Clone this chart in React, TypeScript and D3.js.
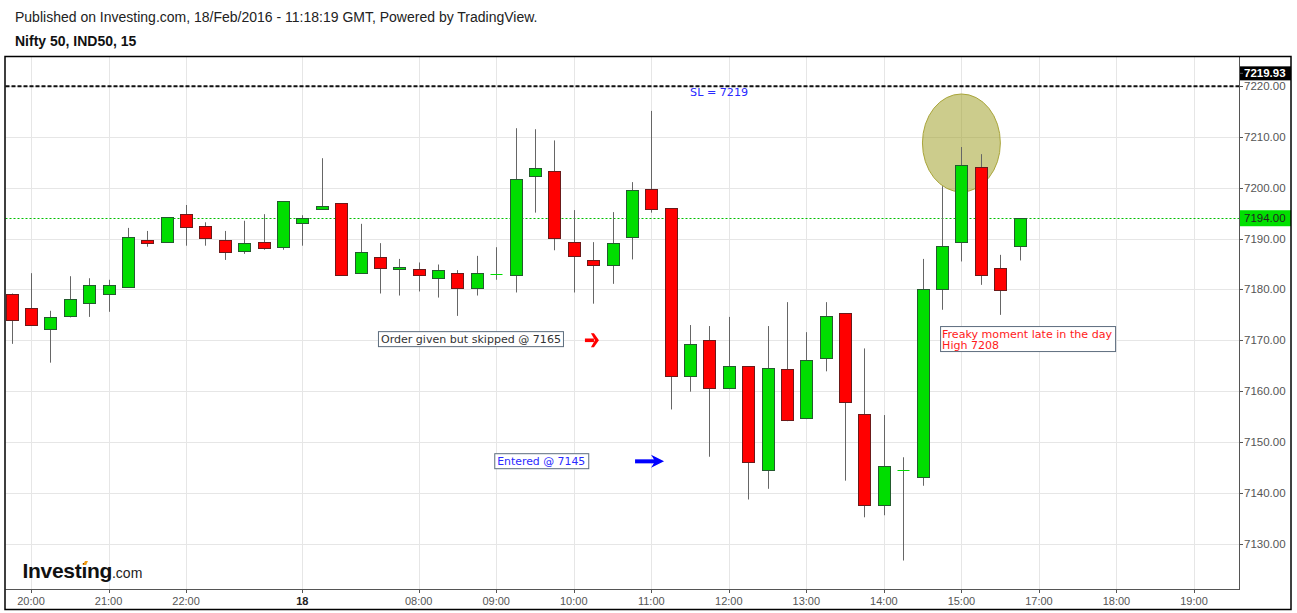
import React from 'react';
import * as d3 from 'd3';

const W = 1297;
const H = 613;

// OHLC of 15-minute candles (index = bar position)
const opens = [7179.2, 7176.3, 7172.2, 7174.7, 7177.3, 7179.2, 7180.4, 7189.7, 7189.3, 7194.8, 7192.4, 7189.7, 7187.5, 7189.3, 7188.3, 7193.0, 7195.8, 7196.9, 7183.2, 7186.4, 7184.0, 7184.0, 7182.2, 7183.2, 7180.2, 7183.0, 7182.8, 7202.4, 7203.2, 7189.3, 7185.7, 7184.9, 7190.3, 7199.7, 7196.0, 7162.9, 7170.0, 7160.6, 7164.9, 7144.4, 7164.3, 7154.7, 7166.5, 7175.3, 7155.5, 7137.6, 7144.4, 7143.1, 7180.0, 7189.3, 7204.0, 7184.2, 7188.5];
const highs = [7179.2, 7183.2, 7175.8, 7182.6, 7182.2, 7181.9, 7192.1, 7191.5, 7194.2, 7196.6, 7193.2, 7191.5, 7193.5, 7194.8, 7197.3, 7194.6, 7205.8, 7196.9, 7192.9, 7189.1, 7186.0, 7185.3, 7184.9, 7183.8, 7186.6, 7188.3, 7211.7, 7211.5, 7209.3, 7195.6, 7189.3, 7195.2, 7201.1, 7215.1, 7196.0, 7173.0, 7172.8, 7174.6, 7164.9, 7172.8, 7177.5, 7171.6, 7177.5, 7175.3, 7168.4, 7155.3, 7147.0, 7186.0, 7200.3, 7208.0, 7206.6, 7186.8, 7194.0];
const lows = [7169.3, 7173.1, 7165.6, 7174.5, 7174.6, 7175.6, 7180.4, 7188.4, 7189.3, 7188.6, 7188.6, 7185.8, 7187.0, 7187.8, 7187.8, 7188.6, 7195.8, 7182.8, 7183.2, 7179.2, 7178.8, 7179.6, 7178.4, 7174.8, 7178.8, 7181.9, 7179.4, 7195.1, 7187.7, 7179.4, 7177.2, 7181.1, 7185.9, 7195.1, 7156.4, 7159.9, 7147.1, 7160.4, 7138.7, 7140.8, 7154.1, 7154.5, 7163.9, 7142.4, 7135.2, 7135.6, 7126.7, 7141.4, 7176.0, 7185.5, 7180.9, 7175.0, 7185.7];
const closes = [7173.9, 7173.1, 7174.5, 7178.1, 7180.8, 7180.8, 7190.3, 7189.1, 7194.2, 7192.2, 7190.1, 7187.3, 7189.1, 7188.1, 7197.3, 7194.0, 7196.5, 7182.8, 7187.3, 7184.2, 7184.5, 7182.8, 7183.8, 7180.2, 7183.2, 7183.0, 7201.7, 7203.8, 7190.1, 7186.5, 7184.9, 7189.1, 7199.5, 7195.8, 7162.9, 7169.2, 7160.7, 7164.9, 7146.0, 7164.5, 7154.3, 7166.1, 7174.7, 7157.8, 7137.6, 7145.2, 7144.4, 7180.0, 7188.5, 7204.4, 7182.8, 7179.8, 7194.0];

const timeTickIndex = [1, 5, 9, 15, 21, 25, 29, 33, 37, 41, 45, 49, 53, 57, 61];
const timeTickLabels = ['20:00', '21:00', '22:00', '18', '08:00', '09:00', '10:00', '11:00', '12:00', '13:00', '14:00', '15:00', '17:00', '18:00', '19:00'];
const priceTicks = [7130, 7140, 7150, 7160, 7170, 7180, 7190, 7200, 7210, 7220];

const stopLoss = 7219.93;
const lastPrice = 7194.0;
const slLabel = 'SL = 7219';
const slAnchor = { i: 36.5, v: 7219.2 };

const orderText = 'Order given but skipped @ 7165';
const orderAnchor = { i: 18.9, v: 7171.8 };
const enteredText = 'Entered @ 7145';
const enteredAnchor = { i: 24.9, v: 7147.8 };
const freakyLines = ['Freaky moment late in the day', 'High 7208'];
const freakyAnchor = { i: 47.9, v: 7172.8 };
const redArrowTip = { i: 30.3, v: 7170.0 };
const blueArrowTip = { i: 33.66, v: 7146.2 };
const circle = { i: 49, v: 7208.8, di: 2.01, dv: 9.63 };

const plotLeft = 5.5;
const plotRight = 1239;
const plotTop = 57;
const plotBottom = 589;

const x = d3.scaleLinear().domain([0, 61]).range([11.62, 1194.0]);
const y = d3.scaleLinear().domain([7121.1, 7225.7]).range([plotBottom, plotTop]);

const FONT = '"Liberation Sans", Arial, sans-serif';
const NOTE_FONT = '"DejaVu Sans Condensed", "DejaVu Sans", sans-serif';

export default function App() {
  const bodyW = 12;
  const candles = opens.map((o, i) => ({ i, o, h: highs[i], l: lows[i], c: closes[i] }));
  const slY = y(stopLoss);
  const lpY = y(lastPrice);

  const rax = x(redArrowTip.i);
  const ray = y(redArrowTip.v);
  const bax = x(blueArrowTip.i);
  const bay = y(blueArrowTip.v);

  const ox = x(orderAnchor.i);
  const oy = y(orderAnchor.v);
  const ex = x(enteredAnchor.i);
  const ey = y(enteredAnchor.v);
  const fx = x(freakyAnchor.i);
  const fy = y(freakyAnchor.v);

  return (
    <svg width={W} height={H} style={{ position: 'absolute', left: 0, top: 0, background: '#fff' }}>
      <rect x={0} y={0} width={W} height={H} fill="#fff" />
      {/* header */}
      <text x={15} y={22} fontFamily={FONT} fontSize={14} fill="#222">
        Published on Investing.com, 18/Feb/2016 - 11:18:19 GMT, Powered by TradingView.
      </text>
      <text x={15} y={46} fontFamily={FONT} fontSize={14} fontWeight="bold" fill="#111">
        Nifty 50, IND50, 15
      </text>

      {/* grid */}
      <g>
        {priceTicks.map((p) => (
          <line key={'h' + p} x1={plotLeft} x2={plotRight} y1={Math.round(y(p)) + 0.5} y2={Math.round(y(p)) + 0.5} stroke="#e6e6e6" />
        ))}
        {timeTickIndex.map((t) => (
          <line key={'v' + t} x1={Math.round(x(t)) + 0.5} x2={Math.round(x(t)) + 0.5} y1={plotTop} y2={plotBottom} stroke="#e6e6e6" />
        ))}
      </g>

      {/* highlight circle */}
      <ellipse
        cx={x(circle.i)}
        cy={y(circle.v)}
        rx={x(circle.i + circle.di) - x(circle.i)}
        ry={y(circle.v - circle.dv) - y(circle.v)}
        fill="rgba(153,153,25,0.5)"
        stroke="#a9a53a"
        strokeWidth={1}
      />

      {/* stop-loss and last price lines */}
      <line x1={plotLeft} x2={plotRight} y1={slY} y2={slY} stroke="#111" strokeWidth={2} strokeDasharray="4,2" />
      <line x1={plotLeft} x2={plotRight} y1={Math.round(lpY) + 0.5} y2={Math.round(lpY) + 0.5} stroke="#00c000" strokeWidth={1} strokeDasharray="2,2" />

      {/* candles */}
      <g>
        {candles.map((d) => {
          const cx = Math.round(x(d.i)) + 0.5;
          const up = d.c >= d.o;
          const top = y(Math.max(d.o, d.c));
          const bot = y(Math.min(d.o, d.c));
          const doji = Math.abs(d.c - d.o) < 0.05;
          return (
            <g key={d.i}>
              <line x1={cx} x2={cx} y1={y(d.h)} y2={y(d.l)} stroke="#666" strokeWidth={1} />
              {doji ? (
                <line x1={cx - bodyW / 2} x2={cx + bodyW / 2} y1={Math.round(top) + 0.5} y2={Math.round(top) + 0.5} stroke="#00dd00" strokeWidth={1} />
              ) : (
                <rect
                  x={cx - bodyW / 2}
                  y={Math.round(top) + 0.5}
                  width={bodyW}
                  height={Math.max(1, Math.round(bot) - Math.round(top))}
                  fill={up ? '#00dd00' : '#ff0000'}
                  stroke={up ? '#235b2e' : '#6b1a1a'}
                  strokeWidth={1}
                />
              )}
            </g>
          );
        })}
      </g>

      {/* annotations */}
      <text x={x(slAnchor.i)} y={y(slAnchor.v) + 6} textAnchor="middle" fontFamily={NOTE_FONT} fontSize={11} fill="#2a2aff" textLength={58} lengthAdjust="spacingAndGlyphs">
        {slLabel}
      </text>

      <rect x={ox + 0.5} y={oy + 0.5} width={185} height={15} fill="#fff" stroke="#5d6d7e" />
      <text x={ox + 3} y={oy + 12} fontFamily={NOTE_FONT} fontSize={11} fill="#333" textLength={180} lengthAdjust="spacingAndGlyphs">
        {orderText}
      </text>

      <rect x={ex + 0.5} y={ey + 0.5} width={94} height={15} fill="#fff" stroke="#5d6d7e" />
      <text x={ex + 3} y={ey + 12} fontFamily={NOTE_FONT} fontSize={11} fill="#2a2aff" textLength={88} lengthAdjust="spacingAndGlyphs">
        {enteredText}
      </text>

      <rect x={fx + 0.5} y={fy + 0.5} width={175} height={25} fill="#fff" stroke="#5d6d7e" />
      <text x={fx + 2} y={fy + 12} fontFamily={NOTE_FONT} fontSize={11} fill="#ff1a1a" textLength={170} lengthAdjust="spacingAndGlyphs">
        {freakyLines[0]}
      </text>
      <text x={fx + 2} y={fy + 23} fontFamily={NOTE_FONT} fontSize={11} fill="#ff1a1a" textLength={57} lengthAdjust="spacingAndGlyphs">
        {freakyLines[1]}
      </text>

      {/* red arrow */}
      <g fill="#ff0000">
        <rect x={rax - 14} y={ray - 1.8} width={9} height={3.6} />
        <path d={`M${rax - 8},${ray - 7} L${rax - 5},${ray - 7} L${rax},${ray} L${rax - 5},${ray + 7} L${rax - 8},${ray + 7} L${rax - 4},${ray} Z`} />
      </g>

      {/* blue arrow */}
      <g fill="#0000ff">
        <rect x={bax - 29} y={bay - 2} width={20} height={4} />
        <path d={`M${bax - 13},${bay - 6.5} L${bax},${bay} L${bax - 13},${bay + 6.5} L${bax - 9},${bay} Z`} />
      </g>

      {/* price axis */}
      <line x1={plotRight + 0.5} x2={plotRight + 0.5} y1={plotTop} y2={plotBottom} stroke="#555" />
      {priceTicks.map((p) => (
        <g key={'pt' + p}>
          <line x1={plotRight} x2={plotRight + 4} y1={Math.round(y(p)) + 0.5} y2={Math.round(y(p)) + 0.5} stroke="#555" />
          <text x={plotRight + 5} y={y(p) + 4} fontFamily={FONT} fontSize={11.5} fill="#555">
            {p.toFixed(2)}
          </text>
        </g>
      ))}

      {/* last price label */}
      <rect x={plotRight + 1} y={lpY - 8} width={51} height={16} fill="#00e000" />
      <text x={plotRight + 5} y={lpY + 4} fontFamily={FONT} fontSize={11.5} fill="#222">
        {lastPrice.toFixed(2)}
      </text>

      {/* stop loss label */}
      <rect x={plotRight + 1} y={slY - 20} width={51} height={14} fill="#000" />
      <line x1={plotRight} x2={plotRight + 4} y1={slY - 13} y2={slY - 13} stroke="#555" />
      <text x={plotRight + 5} y={slY - 9} fontFamily={FONT} fontSize={11.5} fontWeight="bold" fill="#fff">
        {stopLoss.toFixed(2)}
      </text>

      {/* time axis */}
      <line x1={plotLeft} x2={plotRight + 1} y1={plotBottom + 0.5} y2={plotBottom + 0.5} stroke="#555" />
      {timeTickIndex.map((t, k) => (
        <g key={'tt' + t}>
          <line x1={Math.round(x(t)) + 0.5} x2={Math.round(x(t)) + 0.5} y1={plotBottom} y2={plotBottom + 4} stroke="#555" />
          <text
            x={x(t)}
            y={plotBottom + 16}
            textAnchor="middle"
            fontFamily={FONT}
            fontSize={11}
            fontWeight={timeTickLabels[k] === '18' ? 'bold' : 'normal'}
            fill={timeTickLabels[k] === '18' ? '#222' : '#555'}
          >
            {timeTickLabels[k]}
          </text>
        </g>
      ))}

      {/* logo */}
      <text x={22.5} y={578} fontFamily={FONT} fontSize={21} fontWeight="bold" fill="#111" letterSpacing={-0.3}>
        Investing
        <tspan fontSize={14} fontWeight="normal" letterSpacing={0} fill="#222">.com</tspan>
      </text>
      <path d="M83,565 L85,561 L88,561 L86,565 Z" fill="#f39c12" />

      {/* outer frame */}
      <rect x={5} y={56.5} width={1286} height={553} fill="none" stroke="#000" strokeWidth={1.5} />
    </svg>
  );
}
